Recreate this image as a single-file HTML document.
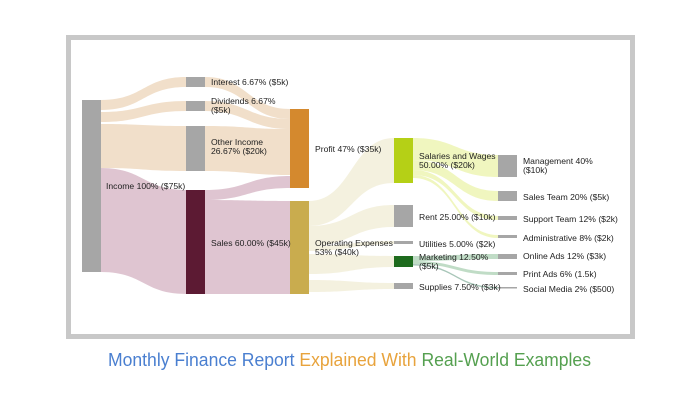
<!DOCTYPE html>
<html><head><meta charset="utf-8"><style>
html,body{margin:0;padding:0;background:#fff;width:698px;height:400px;overflow:hidden}
svg{display:block}
text{font-family:"Liberation Sans",sans-serif;font-size:8.6px;fill:#222}
</style></head><body>
<svg id="s" width="698" height="400" viewBox="0 0 698 400" xmlns="http://www.w3.org/2000/svg">
<rect x="68.5" y="37.5" width="564" height="299" fill="#fff" stroke="#c8c8c8" stroke-width="5"/>
<g id="flows"></g>
<rect x="82" y="100" width="19" height="172" fill="#a6a6a6"/>
<rect x="186" y="77" width="19" height="10" fill="#a6a6a6"/>
<rect x="186" y="101" width="19" height="10" fill="#a6a6a6"/>
<rect x="186" y="126" width="19" height="45" fill="#a6a6a6"/>
<rect x="186" y="190" width="19" height="104" fill="#5c1a33"/>
<rect x="290" y="109" width="19" height="79" fill="#d4892e"/>
<rect x="290" y="201" width="19" height="93" fill="#c9ac4e"/>
<rect x="394" y="138" width="19" height="45" fill="#b5d016"/>
<rect x="394" y="205" width="19" height="22" fill="#a6a6a6"/>
<rect x="394" y="241" width="19" height="3" fill="#a6a6a6"/>
<rect x="394" y="256" width="19" height="11" fill="#1e6b1e"/>
<rect x="394" y="283" width="19" height="6" fill="#a6a6a6"/>
<rect x="498" y="155" width="19" height="22" fill="#a6a6a6"/>
<rect x="498" y="191" width="19" height="10" fill="#a6a6a6"/>
<rect x="498" y="216" width="19" height="4" fill="#a6a6a6"/>
<rect x="498" y="235" width="19" height="3" fill="#a6a6a6"/>
<rect x="498" y="254" width="19" height="5" fill="#a6a6a6"/>
<rect x="498" y="272" width="19" height="3" fill="#a6a6a6"/>
<rect x="498" y="287" width="19" height="1.5" fill="#a6a6a6"/>
<text x="106" y="189">Income 100% ($75k)</text>
<text x="211" y="85">Interest 6.67% ($5k)</text>
<text x="211" y="104">Dividends 6.67%</text><text x="211" y="113">($5k)</text>
<text x="211" y="145">Other Income</text><text x="211" y="154">26.67% ($20k)</text>
<text x="211" y="246">Sales 60.00% ($45k)</text>
<text x="315" y="152">Profit 47% ($35k)</text>
<text x="315" y="246">Operating Expenses</text><text x="315" y="255">53% ($40k)</text>
<text x="419" y="159">Salaries and Wages</text><text x="419" y="168">50.00% ($20k)</text>
<text x="419" y="220">Rent 25.00% ($10k)</text>
<text x="419" y="247">Utilities 5.00% ($2k)</text>
<text x="419" y="260">Marketing 12.50%</text><text x="419" y="269">($5k)</text>
<text x="419" y="290">Supplies 7.50% ($3k)</text>
<text x="523" y="164">Management 40%</text><text x="523" y="173">($10k)</text>
<text x="523" y="200">Sales Team 20% ($5k)</text>
<text x="523" y="222">Support Team 12% ($2k)</text>
<text x="523" y="241">Administrative 8% ($2k)</text>
<text x="523" y="259">Online Ads 12% ($3k)</text>
<text x="523" y="277">Print Ads 6% (1.5k)</text>
<text x="523" y="292">Social Media 2% ($500)</text>
<text x="108" y="366" textLength="483" lengthAdjust="spacingAndGlyphs" style="font-size:18px"><tspan style="fill:#4a7fd0">Monthly Finance Report </tspan><tspan style="fill:#e8a33c">Explained With </tspan><tspan style="fill:#55a050">Real-World Examples</tspan></text>
</svg>
<script>
var F=[
[101,100,110,186,77,87,"#f0dcc4"],
[101,112,122,186,101,111,"#f0dcc4"],
[101,124,168,186,126,171,"#f0dcc4"],
[101,168,272,186,190,294,"#dbbfcc"],
[205,77,87,290,109,119,"#f0dcc4"],
[205,101,111,290,119,129,"#f0dcc4"],
[205,126,171,290,129,175,"#f0dcc4"],
[205,190,200,290,176,188,"#dbbfcc"],
[205,200,294,290,201,294,"#dbbfcc"],
[309,201,226,394,138,183,"#f3efdc"],
[309,226,246,394,205,227,"#f3efdc"],
[309,246,251,394,241,244,"#f3efdc"],
[309,254,274,394,256,267,"#f3efdc"],
[309,280,292,394,283,289,"#f3efdc"],
[413,138,160,498,155,177,"#eef5b8"],
[413,160,170,498,191,201,"#eef5b8"],
[413,170,175,498,216,220,"#eef5b8"],
[413,175,178,498,235,238,"#eef5b8"],
[413,256,261,498,254,259,"#b9d8c0"],
[413,261,264,498,272,275,"#b9d8c0"],
[413,264,265.5,498,287,288.5,"#9fc0b0"]];
var g=document.getElementById("flows"),h="";
F.forEach(function(f){var a=f[0],b=f[3],m=(a+b)/2;
h+='<path fill="'+f[6]+'" fill-opacity="0.9" d="M'+a+' '+f[1]+'C'+m+' '+f[1]+' '+m+' '+f[4]+' '+b+' '+f[4]+'L'+b+' '+f[5]+'C'+m+' '+f[5]+' '+m+' '+f[2]+' '+a+' '+f[2]+'Z"/>';});
g.innerHTML=h;
</script>
</body></html>
